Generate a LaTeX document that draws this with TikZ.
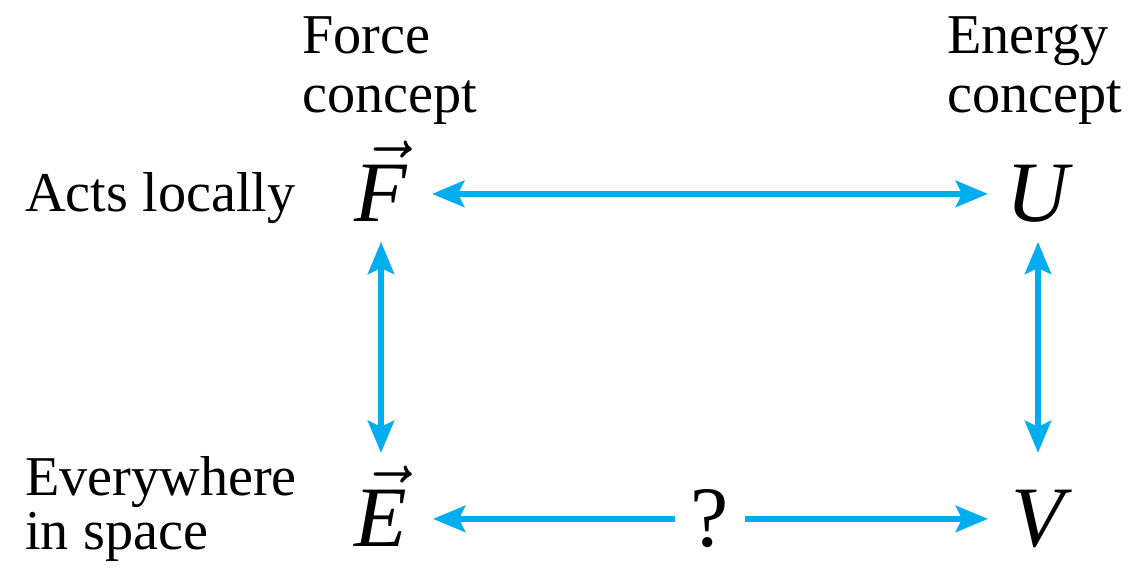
\documentclass[tikz,border=0pt]{standalone}
\usepackage{fontspec}
\setmainfont{Liberation Serif}
\DeclareFontShape{OML}{cmm}{m}{it}{<->cmmi10}{}
\usetikzlibrary{arrows.meta}
\definecolor{arrowcyan}{RGB}{0,174,239}
\tikzset{
  cyanhead/.tip={Stealth[length=0.64cm,width=0.52cm,inset=0.12cm]},
  lbl/.style={inner sep=0pt, anchor=base west, align=left},
  sym/.style={inner sep=0pt, anchor=base, text height=32pt, text depth=0pt,
    font=\fontsize{49}{49}\selectfont},
  conn/.style={draw=arrowcyan, line width=3.8pt, -{cyanhead[arrowcyan]}},
  dbl/.style={draw=arrowcyan, line width=3.8pt, {cyanhead[arrowcyan]}-{cyanhead[arrowcyan]}}
}
\newcommand{\vecsym}[1]{$\skew{5}\vec{\mbox{\itshape #1}}$}
\begin{document}
\begin{tikzpicture}[x=0.02cm,y=-0.02cm]
\useasboundingbox (0,0) rectangle (1140,573);
% labels (base anchor = baseline of the last line)
\node[lbl, font=\fontsize{32}{34}\selectfont] (force) at (302,113) {Force\\concept};
\node[lbl, font=\fontsize{32}{34}\selectfont] (energy) at (947,113) {Energy\\concept};
\node[lbl, font=\fontsize{32}{34}\selectfont] (acts) at (25,212) {Acts locally};
\node[lbl, font=\fontsize{32}{31.2}\selectfont] (every) at (25,550) {Everywhere\\in space};
% symbols
\node[sym] (F) at (381,222) {\vecsym{F}};
\node[sym] (U) at (1038,222) {\itshape U};
\node[sym] (E) at (381,547) {\vecsym{E}};
\node[sym] (V) at (1038,547) {\itshape V};
\node[sym] (q) at (710,547) {?};
% connectors
\draw[dbl, shorten <=1.02cm, shorten >=1.0cm] (F.center) -- (U.center);
\draw[dbl, shorten <=0.96cm, shorten >=1.32cm] (F.center) -- (E.center);
\draw[dbl, shorten <=0.96cm, shorten >=1.32cm] (U.center) -- (V.center);
\draw[conn, shorten <=0.7cm, shorten >=1.04cm] (q.center) -- (E.center);
\draw[conn, shorten <=0.7cm, shorten >=1.0cm] (q.center) -- (V.center);
\end{tikzpicture}
\end{document}
